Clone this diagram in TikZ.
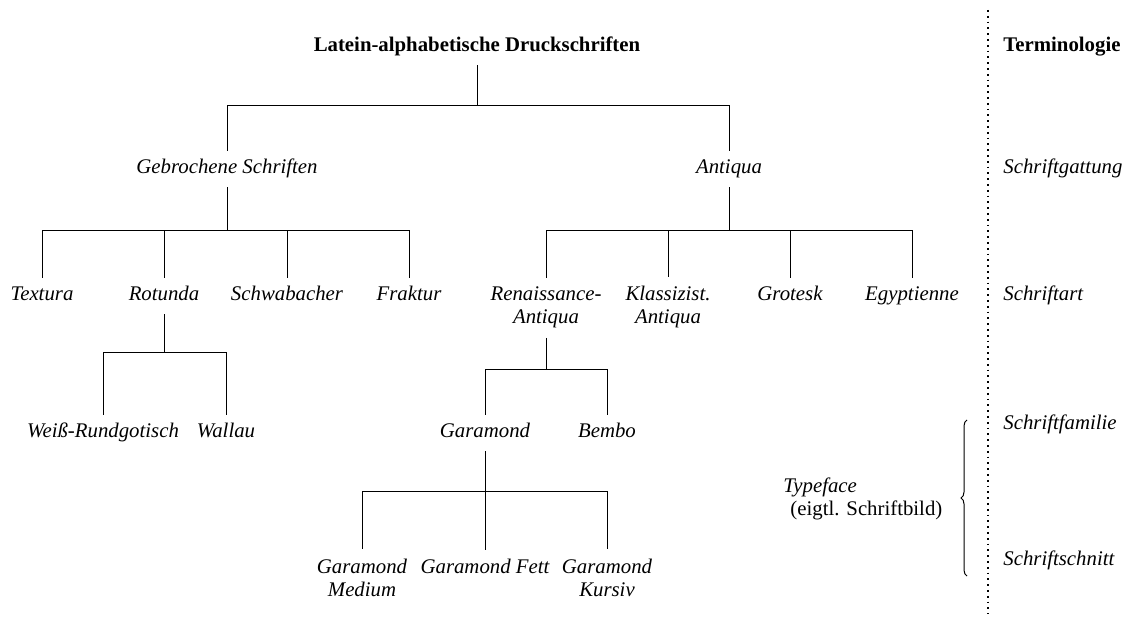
\documentclass[tikz,border=0pt]{standalone}
\usepackage{fontspec}
\setmainfont{Liberation Serif}
\usetikzlibrary{decorations.pathreplacing}
\begin{document}
\begin{tikzpicture}[x=0.5pt,y=-0.5pt,
  tn/.style={anchor=base, font=\fontsize{10.4}{11.5}\selectfont\itshape,
    text height=7pt, text depth=2pt, inner ysep=4.5pt, inner xsep=1pt},
  tntwo/.style={anchor=base, align=center, font=\fontsize{10.4}{11.5}\selectfont\itshape,
    inner ysep=4.5pt, inner xsep=1pt},
  head/.style={anchor=base, font=\fontsize{10.4}{11.5}\selectfont\bfseries,
    text height=7pt, text depth=2pt, inner ysep=4.5pt, inner xsep=1pt},
  term/.style={anchor=base west, inner sep=0pt, font=\fontsize{10.4}{11.5}\selectfont\itshape},
  conn/.style={line width=0.5pt, black}]
\useasboundingbox (0,0) rectangle (1134,619);

% tree nodes
\node[head] (root) at (477,52) {Latein-alphabetische Druckschriften};
\node[tn] (gs) at (227,174) {Gebrochene Schriften};
\node[tn] (an) at (729,174) {Antiqua};
\node[tn] (tex) at (42,301) {Textura};
\node[tn] (rot) at (164,301) {Rotunda};
\node[tn] (sch) at (287,301) {Schwabacher};
\node[tn] (fra) at (409,301) {Fraktur};
\node[tntwo] (ren) at (546,324) {Renaissance-\\Antiqua};
\node[tntwo] (kla) at (668,324) {Klassizist.\\Antiqua};
\node[tn] (gro) at (790,301) {Grotesk};
\node[tn] (egy) at (912,301) {Egyptienne};
\node[tn] (wei) at (103,438) {Weiß-Rundgotisch};
\node[tn] (wal) at (226,438) {Wallau};
\node[tn] (gar) at (485,438) {Garamond};
\node[tn] (bem) at (607,438) {Bembo};
\node[tntwo] (gme) at (362,596) {Garamond\\Medium};
\node[tn] (gfe) at (485,573) {Garamond Fett};
\node[tntwo] (gku) at (607,596) {Garamond\\Kursiv};

% bar junctions
\coordinate (b0) at (477,106);
\coordinate (b1) at (227,231);
\coordinate (b2) at (729,231);
\coordinate (b3) at (164,353);
\coordinate (b4) at (546,370);
\coordinate (b5) at (485,492);

% connectors
\draw[conn] (root.south) -- (b0);
\draw[conn] (b0) -| (gs.north);
\draw[conn] (b0) -| (an.north);
\draw[conn] (gs.south) -- (b1);
\foreach \c in {tex,rot,sch,fra} \draw[conn] (b1) -| (\c.north);
\draw[conn] (an.south) -- (b2);
\foreach \c in {ren,kla,gro,egy} \draw[conn] (b2) -| (\c.north);
\draw[conn] (rot.south) -- (b3);
\foreach \c in {wei,wal} \draw[conn] (b3) -| (\c.north);
\draw[conn] (ren.south) -- (b4);
\foreach \c in {gar,bem} \draw[conn] (b4) -| (\c.north);
\draw[conn] (gar.south) -- (b5);
\foreach \c in {gme,gfe,gku} \draw[conn] (b5) -| (\c.north);

% separator
\coordinate (sepT) at (988,10);
\coordinate (sepB) at (988,614);
\draw[line width=0.9pt, dotted] (sepT) -- (sepB);

% terminology column
\node[term, font=\fontsize{10.4}{11.5}\selectfont\bfseries] (terminologie) at (1003,52) {Terminologie};
\node[term] (gattung) at (1003,174) {Schriftgattung};
\node[term] (art) at (1003,301) {Schriftart};
\node[term] (familie) at (1003,430) {Schriftfamilie};
\node[term] (schnitt) at (1003,565) {Schriftschnitt};

% brace and typeface label
\coordinate (brT) at (967,420);
\coordinate (brB) at (967,576);
\draw[line width=0.5pt, decorate, decoration={brace, amplitude=3pt}] (brB) -- (brT);
\node[anchor=base west, inner sep=0pt, align=left, font=\fontsize{10.4}{11.5}\selectfont] (typeface) at (783,516)
  {\textit{Typeface}\\\hspace*{3.5pt}(eigtl. Schriftbild)};
\end{tikzpicture}
\end{document}
